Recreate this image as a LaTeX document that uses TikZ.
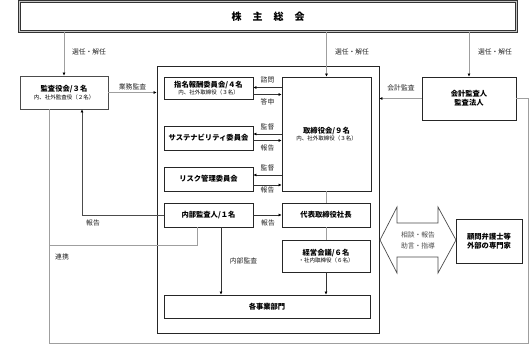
\documentclass[tikz,border=0pt]{standalone}
\usepackage{fontspec}
\setmainfont{Noto Sans CJK JP}
\usetikzlibrary{arrows.meta}
\newcommand\subfnt{\fontsize{5.5}{7}\selectfont\mdseries}
\begin{document}
\begin{tikzpicture}[x=1pt,y=-1pt,
  box/.style={draw=black!85,line width=0.8pt,fill=white,align=center,inner sep=0pt,
    font=\fontsize{7.3}{9}\selectfont\bfseries},
  topbox/.style={draw=gray!40!black,double=gray!45,double distance=1.5pt,line width=0.7pt,
    inner sep=0pt,font=\fontsize{10}{12}\selectfont\bfseries},
  gline/.style={draw=gray!75,line width=0.9pt},
  kline/.style={draw=black!80,line width=0.7pt},
  arr/.style={-{Latex[length=3pt,width=3pt,color=black]}},
  lbl/.style={font=\fontsize{6.8}{8}\selectfont,text=black!85,inner sep=0pt}
]
\useasboundingbox (0,0) rectangle (530,346);
\fill[white] (0,0) rectangle (530,346);

% frame
\node[draw=black!85,line width=0.8pt,minimum width=222pt,minimum height=267pt,inner sep=0pt] (frame) at (268,199.5) {};

% top
\node[topbox,minimum width=497pt,minimum height=30pt] (top) at (268,16.5) {株\hspace{11pt}主\hspace{11pt}総\hspace{11pt}会};

% boxes
\node[box,draw=black!70,minimum width=88pt,minimum height=33pt] (kansa) at (64,92.5)
  {監査役会/３名\\[-1.5pt]{\subfnt 内、社外監査役（２名）}};
\node[box,minimum width=89pt,minimum height=22pt] (shimei) at (208.5,88)
  {指名報酬委員会/４名\\[-1.5pt]{\subfnt 内、社外取締役（３名）}};
\node[box,minimum width=89pt,minimum height=114pt] (tori) at (326.5,134)
  {取締役会/９名\\[-1.5pt]{\subfnt 内、社外取締役（３名）}};
\node[box,minimum width=89pt,minimum height=24pt] (sust) at (208.5,138) {サステナビリティ委員会};
\node[box,minimum width=89pt,minimum height=24pt] (risk) at (208.5,179) {リスク管理委員会};
\node[box,minimum width=89pt,minimum height=24pt] (naibu) at (208.5,215) {内部監査人/１名};
\node[box,minimum width=88pt,minimum height=24pt] (daihyo) at (326,215) {代表取締役社長};
\node[box,minimum width=88pt,minimum height=32pt] (keiei) at (326,256)
  {経営会議/６名\\[-1.5pt]{\subfnt ・社内取締役（６名）}};
\node[box,minimum width=206pt,minimum height=23pt] (jigyo) at (267,306.5) {各事業部門};
\node[box,minimum width=94pt,minimum height=43pt] (kaikei) at (469,98.5) {会計監査人\\監査法人};
\node[box,minimum width=66pt,minimum height=44pt] (komon) at (489,241) {顧問弁護士等\\外部の専門家};

% top arrows
\draw[gline,arr] (kansa.north |- top.south) -- (kansa.north);
\draw[gline,arr] (tori.north |- top.south) -- (tori.north);
\draw[gline,arr] (kaikei.north |- top.south) -- (kaikei.north);
\node[lbl] (l1) at (89,52) {選任・解任};
\node[lbl] (l2) at (352,52) {選任・解任};
\node[lbl] (l3) at (495,52) {選任・解任};

% audit
\draw[gline,arr] (kansa.east) -- (kansa.east -| frame.west);
\node[lbl] (l4) at (132.5,87) {業務監査};
\draw[gline,arr] (kaikei.west) -- (kaikei.west -| frame.east);
\node[lbl] (l5) at (401,88) {会計監査};

% board <-> committees
\draw[kline,arr] (tori.west |- 0,87.5) -- (shimei.east |- 0,87.5);
\draw[kline,arr] (shimei.east |- 0,94.5) -- (tori.west |- 0,94.5);
\node[lbl] (l6) at (267.5,80) {諮問};
\node[lbl] (l7) at (267.5,102) {答申};
\draw[kline,arr] (tori.west |- 0,134) -- (sust.east |- 0,134);
\draw[kline,arr] (sust.east |- 0,140.5) -- (tori.west |- 0,140.5);
\node[lbl] (l8) at (267.5,127) {監督};
\node[lbl] (l9) at (267.5,148) {報告};
\draw[kline,arr] (tori.west |- 0,175) -- (risk.east |- 0,175);
\draw[kline,arr] (risk.east |- 0,185) -- (tori.west |- 0,185);
\node[lbl] (l10) at (267.5,168) {監督};
\node[lbl] (l11) at (267.5,190) {報告};

% internal audit
\draw[kline,arr] (naibu.east) -- (daihyo.west);
\node[lbl] (l12) at (268,223) {報告};
\draw[kline,draw=black!70,arr] (naibu.west) -| ([xshift=18pt]kansa.south);
\node[lbl] (l13) at (93,223) {報告};
\draw[kline,arr] ([xshift=12.5pt]naibu.south) -- ([xshift=12.5pt]naibu.south |- jigyo.north);
\node[lbl] (l14) at (243.5,261) {内部監査};

% executive chain
\draw[gline] (daihyo.north |- tori.south) -- (daihyo.north);
\draw[gline] (daihyo.south) -- (keiei.north);
\draw[kline,arr] (keiei.south) -- (keiei.south |- jigyo.north);

% renkei lines
\coordinate (cb) at (528,343);
\coordinate (lk) at (49,245);
\draw[gline] ([xshift=-15pt]kansa.south) |- (cb) |- (kaikei.east);
\draw[gline] ([xshift=-11.5pt]naibu.south) |- (lk);
\node[lbl] (l15) at (62,257) {連携};

% double arrow
\draw[draw=black!70,line width=0.7pt,fill=white] (380,240) -- (397,207) -- (397,223) -- (438,223) -- (438,207)
  -- (456,240) -- (438,273) -- (438,257) -- (397,257) -- (397,273) -- cycle;
\node[lbl,align=center,text=black!70] (dbl) at (418,240) {相談・報告\\[3pt]助言・指導};
\end{tikzpicture}
\end{document}
